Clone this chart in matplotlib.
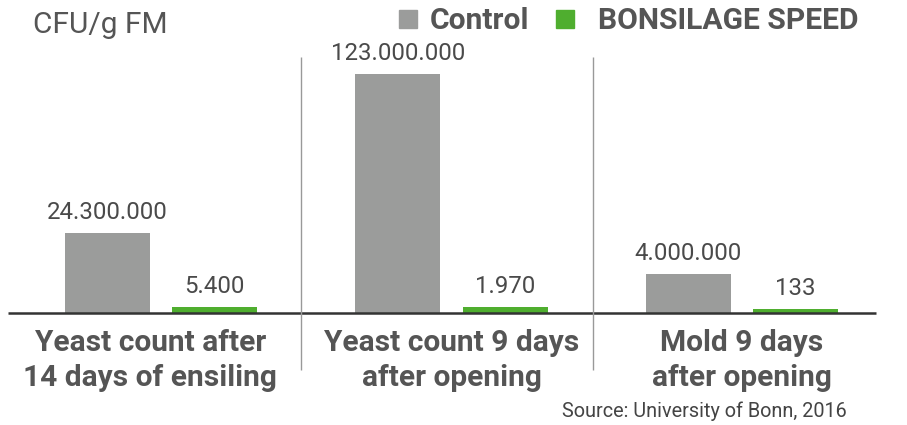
import matplotlib
matplotlib.use("Agg")
import matplotlib.pyplot as plt
from matplotlib.patches import Rectangle

plt.rcParams['font.family'] = ['Roboto', 'DejaVu Sans']

# data
categories = ['Yeast count after\n14 days of ensiling',
              'Yeast count 9 days\nafter opening',
              'Mold 9 days\nafter opening']
series_names = ['Control', 'BONSILAGE SPEED']
control_labels = ['24.300.000', '123.000.000', '4.000.000']
speed_labels = ['5.400', '1.970', '133']
# displayed bar heights (the source chart is not drawn to a linear scale)
control_heights = [80, 239, 39]
speed_heights = [6, 6, 4]

GRAY = '#9b9c9b'
GREEN = '#4fae2f'
TEXT = '#555555'

W, H = 907, 425
fig = plt.figure(figsize=(W / 100, H / 100), dpi=100)
ax = fig.add_axes([0, 0, 1, 1])
ax.set_xlim(-0.554, 2.568)
ax.set_ylim(-112, 313)
ax.axis('off')

def fx(px):
    return px / W

def fy(py):
    return 1 - py / H

x = list(range(len(categories)))
offset = 0.185
width = 0.293
bars_c = ax.bar([i - offset for i in x], control_heights, width, color=GRAY)
bars_s = ax.bar([i + offset for i in x], speed_heights, width, color=GREEN)

for bars, labels in ((bars_c, control_labels), (bars_s, speed_labels)):
    for b, lab in zip(bars, labels):
        ax.annotate(lab, (b.get_x() + b.get_width() / 2, b.get_height()),
                    xytext=(0, 10), textcoords='offset points',
                    ha='center', va='baseline', fontsize=17.3, color='#4a4a4a')

# baseline and separators
ax.plot([-0.527, 2.461], [0, 0], color='#333333', lw=1.8, solid_capstyle='butt')
ax.vlines([0.482, 1.487], -57, 256, color='#999999', lw=1)

label_shift = [-0.037, 0.0, 0.0]
for i, cat in enumerate(categories):
    ax.text(i + label_shift[i], -16, cat, ha='center', va='top', fontsize=21.5,
            fontweight='bold', color=TEXT, linespacing=1.32)

# unit and source
fig.text(fx(33), fy(33), 'CFU/g FM', fontsize=21.5, color=TEXT, va='baseline')
fig.text(fx(847), fy(417), 'Source: University of Bonn, 2016', fontsize=14.3,
         color='#444444', ha='right', va='baseline')

# legend
for (sx, tx), name, col in zip(((399, 430), (556, 598)), series_names, (GRAY, GREEN)):
    fig.add_artist(Rectangle((fx(sx), fy(28)), 18 / W, 18 / H,
                             transform=fig.transFigure, color=col))
    fig.text(fx(tx), fy(29), name, fontsize=21.6, fontweight='bold', color=TEXT,
             va='baseline')

fig.savefig('out.png', dpi=100)
